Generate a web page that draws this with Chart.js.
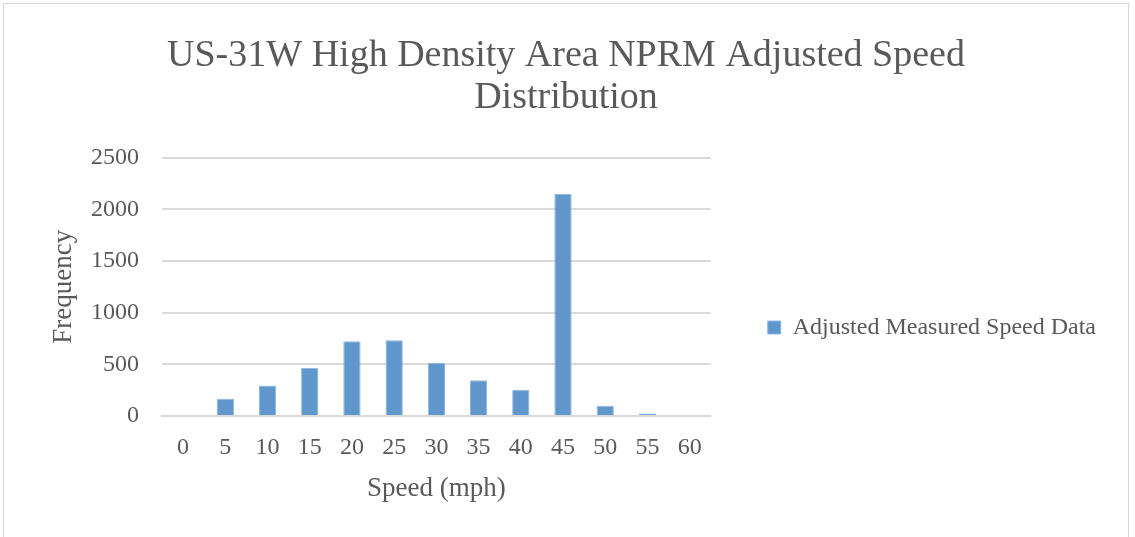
<!DOCTYPE html>
<html>
<head>
<meta charset="utf-8">
<script src="https://cdn.jsdelivr.net/npm/chart.js@4/dist/chart.umd.min.js"></script>
<style>
    html, body { margin: 0; padding: 0; background: #ffffff; }
    #frame {
        position: absolute;
        left: 3px;
        top: 3px;
        width: 1124px;
        height: 540px;
        border: 1px solid #d9d9d9;
        border-bottom: none;
    }
    #chartBox { position: absolute; left: 0; top: 0; width: 1124px; height: 534px; }
</style>
</head>
<body>
<div id="frame">
    <div id="chartBox"><canvas id="speedChart"></canvas></div>
</div>
<script>
// Speed bins (mph) and counts
const speedLabels = ['0', '5', '10', '15', '20', '25', '30', '35', '40', '45', '50', '55', '60'];
const frequencies = [0, 168, 295, 468, 724, 732, 515, 345, 255, 2150, 100, 25, 0];
const yTicks = [0, 500, 1000, 1500, 2000, 2500];

const textColor = '#595959';
const gridColor = '#d9d9d9';
const serif = "'Liberation Serif', 'DejaVu Serif', serif";

const ctx = document.getElementById('speedChart');

new Chart(ctx, {
    type: 'bar',
    data: {
        labels: speedLabels,
        datasets: [{
            label: 'Adjusted Measured Speed Data',
            data: frequencies,
            backgroundColor: '#5f96cb',
            borderColor: '#8fb7de',
            borderWidth: 1,
            categoryPercentage: 1,
            barPercentage: 0.41
        }]
    },
    options: {
        responsive: true,
        maintainAspectRatio: false,
        animation: false,
        layout: {
            padding: { left: 22, right: 22, top: 0, bottom: 33 }
        },
        plugins: {
            title: {
                display: true,
                text: ['US-31W High Density Area NPRM Adjusted Speed', 'Distribution'],
                color: textColor,
                font: { family: serif, size: 38, weight: 'normal', lineHeight: 1.1 },
                padding: { top: 31, bottom: 39 }
            },
            legend: {
                position: 'right',
                maxWidth: 460,
                // blank legend title only pushes the entry down
                title: {
                    display: true,
                    text: ' ',
                    font: { size: 10 },
                    padding: { top: 134, bottom: 0 }
                },
                labels: {
                    color: textColor,
                    font: { family: serif, size: 24 },
                    boxWidth: 13,
                    boxHeight: 13,
                    padding: 29
                }
            },
            tooltip: { enabled: false }
        },
        scales: {
            x: {
                afterFit: axis => { axis.height = 89; },
                grid: { display: false, drawTicks: false },
                border: { display: true, color: gridColor, width: 2 },
                ticks: {
                    color: textColor,
                    font: { family: serif, size: 24 },
                    padding: 17,
                    maxRotation: 0
                },
                title: {
                    display: true,
                    text: 'Speed (mph)',
                    color: textColor,
                    font: { family: serif, size: 27 },
                    padding: { top: 0, bottom: 0 }
                }
            },
            y: {
                min: 0,
                max: 2500,
                afterBuildTicks: axis => {
                    axis.ticks = yTicks.map(v => ({ value: v }));
                },
                afterFit: axis => { axis.width = 136; },
                grid: { color: gridColor, lineWidth: 2, drawTicks: false },
                border: { display: false },
                ticks: {
                    color: textColor,
                    font: { family: serif, size: 24 },
                    padding: 23,
                    callback: v => String(v)
                },
                title: {
                    display: true,
                    text: 'Frequency',
                    color: textColor,
                    font: { family: serif, size: 27 },
                    padding: { top: 22, bottom: 0 }
                }
            },
            // empty spacer between plot and legend
            gap: {
                type: 'linear',
                position: 'right',
                afterFit: axis => { axis.width = 28; },
                grid: { display: false },
                border: { display: false },
                ticks: { display: false }
            }
        }
    }
});
</script>
</body>
</html>
